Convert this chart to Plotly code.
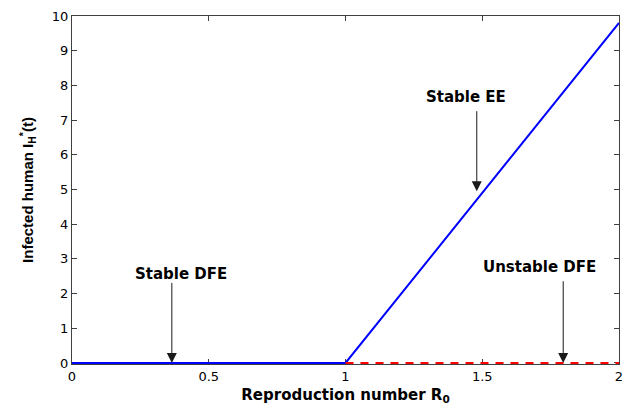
import plotly.graph_objects as go

# Endemic equilibrium of infected humans versus R0
r0_stable = [0, 1, 2]
ih_stable = [0, 0, 9.8]

# Disease-free equilibrium after it loses stability (R0 > 1)
r0_unstable = [1, 2]
ih_unstable = [0, 0]

x_ticks = [0, 0.5, 1, 1.5, 2]
x_tick_text = ["0", "0.5", "1", "1.5", "2"]
y_ticks = list(range(0, 11))

# Arrow labels: text, label position, arrow tail, arrow tip
labels = ["Stable DFE", "Stable EE", "Unstable DFE"]
label_x = [0.40, 1.44, 1.71]
label_y = [2.56, 7.67, 2.76]
tail_x = [0.365, 1.48, 1.796]
tail_y = [2.35, 7.3, 2.4]
tip_x = [0.365, 1.48, 1.796]
tip_y = [0.0, 4.95, 0.0]

fig = go.Figure()
fig.add_trace(go.Scatter(
    x=r0_stable, y=ih_stable, mode="lines",
    line=dict(color="#0000ff", width=2),
    showlegend=False, hoverinfo="skip",
))
fig.add_trace(go.Scatter(
    x=r0_unstable, y=ih_unstable, mode="lines",
    line=dict(color="#ff0000", width=2, dash="8px,7px"),
    showlegend=False, hoverinfo="skip",
))

annotations = []
for txt, lx, ly in zip(labels, label_x, label_y):
    annotations.append(dict(
        x=lx, y=ly, xref="x", yref="y", text=f"<b>{txt}</b>",
        showarrow=False, font=dict(family="DejaVu Sans", size=15, color="black"),
        xanchor="center", yanchor="middle",
    ))
for ax_, ay_, x_, y_ in zip(tail_x, tail_y, tip_x, tip_y):
    annotations.append(dict(
        x=x_, y=y_, ax=ax_, ay=ay_, xref="x", yref="y", axref="x", ayref="y",
        text="", showarrow=True, arrowhead=2, arrowsize=2, arrowwidth=1,
        arrowcolor="#1a1a1a", standoff=0,
    ))

axis_common = dict(
    showline=True, linecolor="#404040", linewidth=1, mirror="ticks",
    ticks="inside", ticklen=5, tickcolor="#404040", tickwidth=1,
    showgrid=False, zeroline=False, layer="below traces",
    tickfont=dict(family="DejaVu Sans", size=13, color="black"),
)

fig.update_layout(
    width=630, height=408,
    margin=dict(l=72, r=7, t=16, b=44),
    paper_bgcolor="white", plot_bgcolor="white",
    annotations=annotations,
    xaxis=dict(
        range=[0, 2], tickvals=x_ticks, ticktext=x_tick_text,
        title=dict(text="<b>Reproduction number R<sub>0</sub></b>",
                   font=dict(family="DejaVu Sans", size=15, color="black"),
                   standoff=6),
        **axis_common,
    ),
    yaxis=dict(
        range=[-0.03, 10], tickvals=y_ticks,
        title=dict(text="<b>Infected human I<sub>H</sub><sup>*</sup>(t)</b>",
                   font=dict(family="Liberation Sans Narrow, Liberation Sans", size=15, color="black"),
                   standoff=14),
        **axis_common,
    ),
)

fig.write_html("out.html")
